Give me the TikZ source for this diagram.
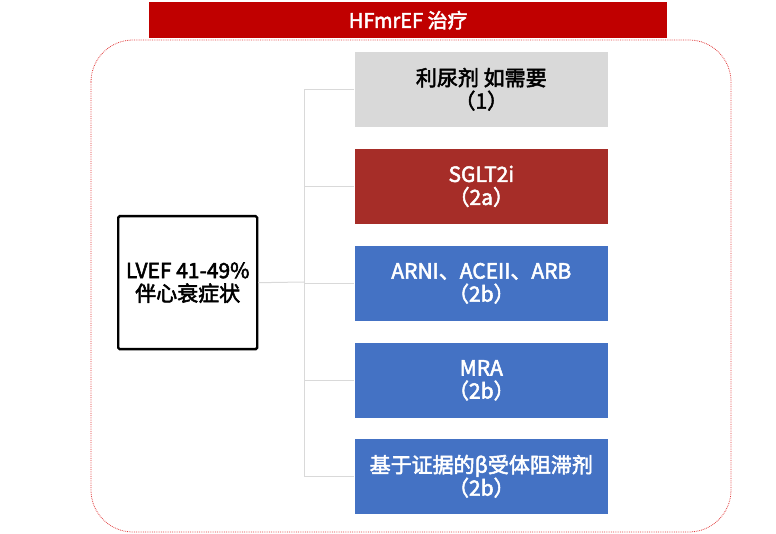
\documentclass[tikz,border=0pt]{standalone}
\usepackage{fontspec}
\setmainfont{Noto Sans CJK SC}
\newfontfamily\semib{Noto Sans CJK SC}[FakeBold=2.5]
\definecolor{titlered}{HTML}{C00000}
\definecolor{boxred}{HTML}{A62D28}
\definecolor{boxblue}{HTML}{4472C4}
\definecolor{boxgray}{HTML}{D9D9D9}
\definecolor{linegray}{HTML}{D9D9D9}
\definecolor{dotred}{HTML}{E03A3A}
\begin{document}
\begin{tikzpicture}[x=1pt,y=-1pt,
  txt/.style={font=\semib\fontsize{21}{23}\selectfont, align=center, inner sep=0pt},
  rbox/.style={txt, minimum width=254pt, minimum height=76pt, anchor=north west, draw=white, line width=0.6pt},
  conn/.style={draw=linegray, line width=1pt}]
\useasboundingbox (0,0) rectangle (776,534);
% dotted frame
\draw[dotred, densely dotted, line width=0.8pt, rounded corners=42pt] (91,40) rectangle (731,532);
% title
\node[fill=titlered, minimum width=518pt, minimum height=36pt, anchor=north west, inner sep=0pt,
  text=white, font=\semib\fontsize{20}{22}\selectfont] (title) at (149,2) {HFmrEF 治疗};
% left box
\node[txt, draw=black, line width=2.4pt, rounded corners=1.5pt, minimum width=139pt, minimum height=133pt,
  anchor=north west] (lvef) at (117,215) {LVEF 41-49\%\\伴心衰症状};
% right boxes
\node[rbox, fill=boxgray] (b1) at (354,51) {利尿剂 如需要\\（1）};
\node[rbox, fill=boxred, text=white] (b2) at (354,148) {SGLT2i\\（2a）};
\node[rbox, fill=boxblue, text=white] (b3) at (354,245) {ARNI、ACEII、ARB\\（2b）};
\node[rbox, fill=boxblue, text=white] (b4) at (354,342) {MRA\\（2b）};
\node[rbox, fill=boxblue, text=white] (b5) at (354,438) {基于证据的β受体阻滞剂\\（2b）};
% connectors
\coordinate (hub) at (304,282);
\coordinate (top) at (304,89.5);
\coordinate (bot) at (304,476);
\draw[conn] (lvef.east) -- (hub);
\draw[conn] (top) -- (bot);
\foreach \b in {b1,b2,b3,b4,b5} {
  \draw[conn] (\b.west) -- (\b.west -| hub);
}
\end{tikzpicture}
\end{document}
